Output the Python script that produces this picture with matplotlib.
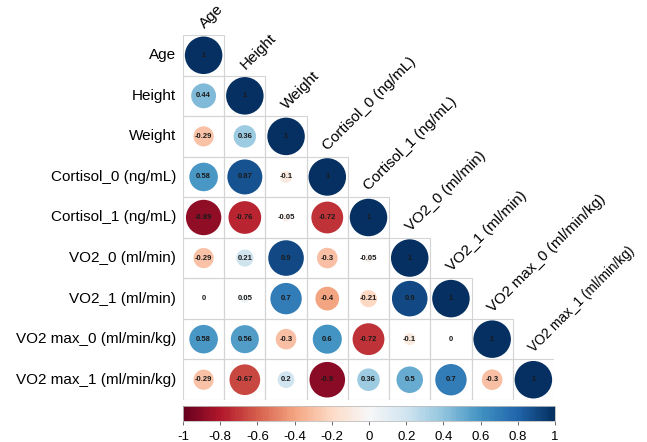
import numpy as np
import matplotlib
matplotlib.use("Agg")
import matplotlib.pyplot as plt
from matplotlib.patches import Rectangle
from matplotlib.colors import Normalize

plt.rcParams['font.family'] = ['Liberation Sans', 'DejaVu Sans']

labels = ["Age", "Height", "Weight", "Cortisol_0 (ng/mL)", "Cortisol_1 (ng/mL)",
          "VO2_0 (ml/min)", "VO2_1 (ml/min)", "VO2 max_0 (ml/min/kg)", "VO2 max_1 (ml/min/kg)"]

row_age = [1]
row_height = [0.44, 1]
row_weight = [-0.29, 0.36, 1]
row_cort0 = [0.58, 0.87, -0.1, 1]
row_cort1 = [-0.89, -0.76, -0.05, -0.72, 1]
row_vo2_0 = [-0.29, 0.21, 0.9, -0.3, -0.05, 1]
row_vo2_1 = [0, 0.05, 0.7, -0.4, -0.21, 0.9, 1]
row_vo2max_0 = [0.58, 0.56, -0.3, 0.6, -0.72, -0.1, 0, 1]
row_vo2max_1 = [-0.29, -0.67, 0.2, -0.9, 0.36, 0.5, 0.7, -0.3, 1]
rows = [row_age, row_height, row_weight, row_cort0, row_cort1,
        row_vo2_0, row_vo2_1, row_vo2max_0, row_vo2max_1]

cbar_ticks = [-1, -0.8, -0.6, -0.4, -0.2, 0, 0.2, 0.4, 0.6, 0.8, 1]
cbar_ticklabels = ["-1", "-0.8", "-0.6", "-0.4", "-0.2", "0", "0.2", "0.4", "0.6", "0.8", "1"]

W, H = 647, 442
fig = plt.figure(figsize=(W / 100, H / 100), dpi=100)
ax = fig.add_axes([183 / W, 1 - 400 / H, 371 / W, 365 / H])
n = len(labels)
ax.set_xlim(-0.5, n - 0.5)
ax.set_ylim(n - 0.5, -0.5)
ax.axis('off')

cmap = plt.get_cmap('RdBu')
norm = Normalize(-1, 1)

xs, ys, vals = [], [], []
for i, r in enumerate(rows):
    for j, v in enumerate(r):
        ax.add_patch(Rectangle((j - 0.5, i - 0.5), 1, 1, fill=False,
                               edgecolor='#d4d4d4', linewidth=0.8, zorder=1))
        xs.append(j); ys.append(i); vals.append(v)

vals = np.array(vals)
diam_px = np.sqrt(np.abs(vals)) * 37.5
sizes = (diam_px * 72 / 100) ** 2
ax.scatter(xs, ys, s=sizes, c=vals, cmap=cmap, norm=norm, linewidths=0, zorder=2)

for x, y, v in zip(xs, ys, vals):
    txt = f"{v:g}"
    ax.text(x, y, txt, ha='center', va='center', fontsize=5.5, fontweight='bold',
            color='#1a1a1a', zorder=3)

for i, lab in enumerate(labels):
    ax.text(-0.5 - 0.17, i, lab, ha='right', va='center', fontsize=11, color='black',
            clip_on=False)
    fs = 11 if i < n - 1 else 9.8
    ax.text(i + 0.02, i - 0.5 - 0.15, lab, ha='left', va='baseline', rotation=45,
            rotation_mode='anchor', fontsize=fs, color='black', clip_on=False)

cax = fig.add_axes([183 / W, 1 - 421 / H, 372 / W, 15 / H])
sm = matplotlib.cm.ScalarMappable(norm=norm, cmap=matplotlib.colors.ListedColormap(cmap(np.linspace(0, 1, 200))))
cb = fig.colorbar(sm, cax=cax, orientation='horizontal')
cb.set_ticks(cbar_ticks)
cb.set_ticklabels(cbar_ticklabels)
cb.outline.set_edgecolor('#bdbdbd')
cb.outline.set_linewidth(0.6)
cax.tick_params(axis='x', length=3, width=0.6, color='#555555', labelsize=9.5, pad=4)

fig.savefig("out.png", dpi=100)
